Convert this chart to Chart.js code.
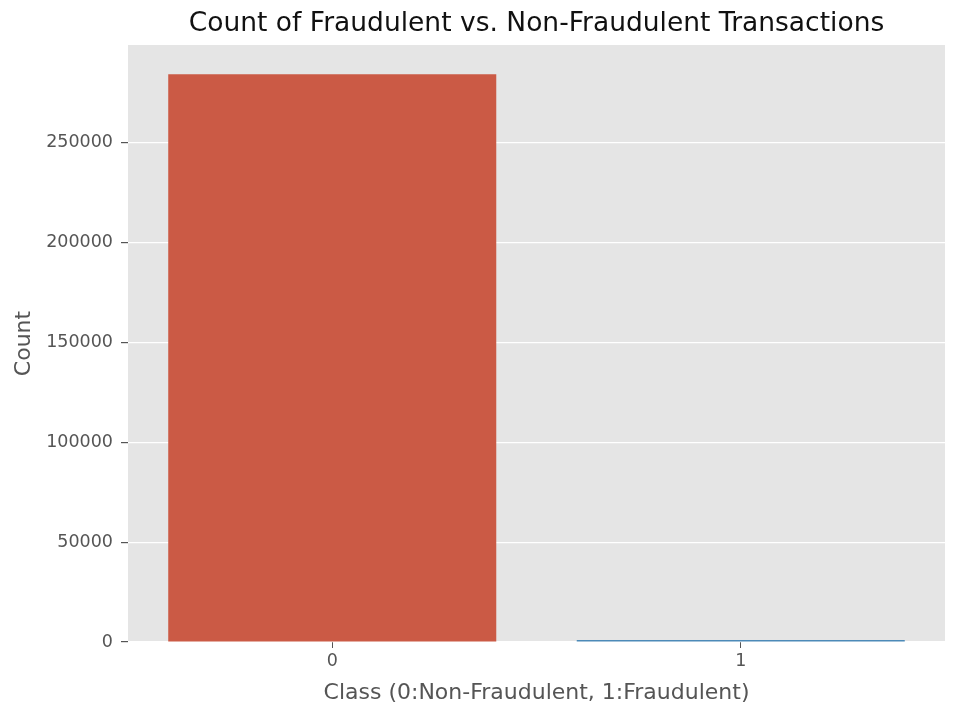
<!DOCTYPE html>
<html>
<head>
<meta charset="utf-8">
<script src="https://cdn.jsdelivr.net/npm/chart.js"></script>
<style>
  html, body { margin: 0; padding: 0; background: #fff; }
  #wrap { width: 967px; height: 719px; }
</style>
</head>
<body>
<div id="wrap"><canvas id="fraudChart" width="967" height="719"></canvas></div>
<script>
// data
var classLabels = ['0', '1'];
var classCounts = [284315, 492];
var barColors = ['#CB5A45', '#4C8AB8'];
var yTicks = [0, 50000, 100000, 150000, 200000, 250000];
var yMax = 299000;

var titleText = 'Count of Fraudulent vs. Non-Fraudulent Transactions';
var xTitle = 'Class (0:Non-Fraudulent, 1:Fraudulent)';
var yTitle = 'Count';

var fontFamily = '"DejaVu Sans", sans-serif';

// grey panel behind the bars, title over the axes
var panelPlugin = {
    id: 'panel',
    beforeDraw: function(chart) {
        var a = chart.chartArea, c = chart.ctx;
        c.save();
        c.fillStyle = '#E5E5E5';
        c.fillRect(a.left, a.top, a.right - a.left, a.bottom - a.top);
        c.restore();
    },
    afterDraw: function(chart) {
        var a = chart.chartArea, c = chart.ctx;
        c.save();
        c.fillStyle = '#111';
        c.font = '26.5px ' + fontFamily;
        c.textAlign = 'center';
        c.textBaseline = 'middle';
        c.fillText(titleText, (a.left + a.right) / 2, 24);
        c.restore();
    }
};

var ctx = document.getElementById('fraudChart').getContext('2d');
var chart = new Chart(ctx, {
    type: 'bar',
    data: {
        labels: classLabels,
        datasets: [{
            data: classCounts,
            backgroundColor: barColors,
            borderWidth: 0,
            barPercentage: 0.803,
            categoryPercentage: 1.0,
            minBarLength: 2
        }]
    },
    options: {
        responsive: false,
        animation: false,
        layout: { padding: { left: 0, top: 45, right: 22, bottom: 0 } },
        plugins: {
            legend: { display: false },
            tooltip: { enabled: false }
        },
        scales: {
            x: {
                grid: { drawOnChartArea: false, offset: false, tickColor: '#555', tickLength: 6 },
                border: { display: false },
                ticks: { color: '#555', font: { family: fontFamily, size: 17.5 }, padding: 3 },
                title: { display: true, text: xTitle, color: '#555', font: { family: fontFamily, size: 22 }, padding: { top: 4, bottom: 13 } },
                afterFit: function(s) { s.height = 77; }
            },
            y: {
                min: 0,
                max: yMax,
                afterBuildTicks: function(s) { s.ticks = yTicks.map(function(v) { return { value: v }; }); },
                grid: { color: '#FFFFFF', lineWidth: 1.2, tickColor: '#555', tickLength: 7 },
                border: { display: false },
                ticks: {
                    color: '#555',
                    font: { family: fontFamily, size: 17.5 },
                    padding: 8,
                    callback: function(v) { return String(v); }
                },
                title: { display: true, text: yTitle, color: '#555', font: { family: fontFamily, size: 22 }, padding: { top: 11, bottom: 4 } },
                afterFit: function(s) { s.width = 128; }
            }
        }
    },
    plugins: [panelPlugin]
});
</script>
</body>
</html>
